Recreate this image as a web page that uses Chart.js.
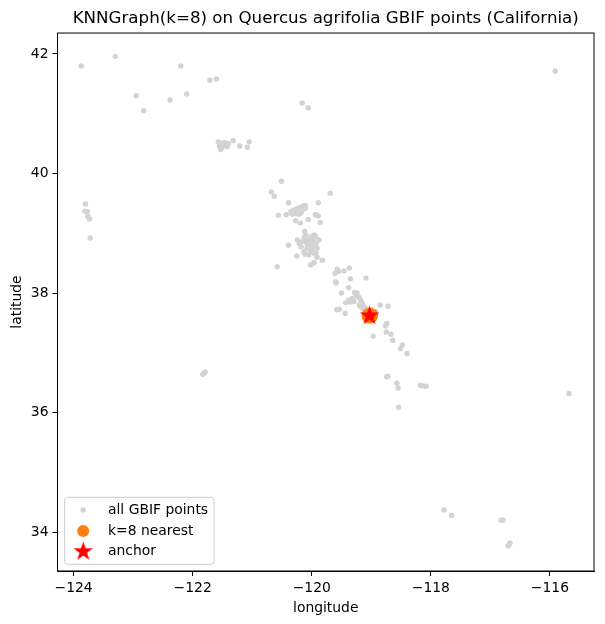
<!DOCTYPE html>
<html>
<head>
<meta charset="utf-8">
<title>KNNGraph on Quercus agrifolia</title>
<script src="https://cdn.jsdelivr.net/npm/chart.js@4.4.1/dist/chart.umd.min.js"></script>
<style>
  body { margin: 0; background: #fff; }
  #chart { display: block; }
</style>
</head>
<body>
<canvas id="chart" width="605" height="624"></canvas>
<script>
// all GBIF occurrence points (longitude / latitude)
const gbifLon = [
  -123.87, -123.30, -122.20, -121.71, -121.60, -122.95, -122.82, -122.38, -122.10, -120.16, -120.06, -115.91,
  -121.57, -121.53, -121.47, -121.53, -121.50, -121.42, -121.32, -121.21, -121.05, -121.08, -121.45, -121.55,
  -121.52, -121.48, -121.40,
  -123.80, -123.81, -123.77, -123.76, -123.73, -123.72,
  -120.51, -120.68, -120.63, -120.39, -119.89, -119.69, -120.11, -120.56, -120.27, -120.19, -120.06, -119.94,
  -119.86, -120.12, -119.94, -120.39, -120.25, -120.11, -119.97, -119.91, -119.82, -119.97, -120.02, -120.58,
  -120.35, -120.30, -120.24, -120.18, -120.13, -120.27, -120.21, -120.16, -120.22, -120.33, -120.11, -120.18,
  -120.43, -119.93, -119.89, -120.25, -120.20, -120.29,
  -120.10, -120.02, -119.96, -120.05, -120.16, -119.93, -120.07, -119.99, -120.21, -120.24, -119.91, -120.02,
  -120.13, -119.93, -120.05, -120.13, -120.01, -120.08, -119.88, -120.18, -119.96, -120.03, -119.98, -120.10,
  -120.00,
  -119.61, -119.55, -119.46, -119.37, -119.35, -119.59, -119.38, -119.09, -119.50, -119.28, -119.57, -119.60,
  -119.43, -119.38, -119.32, -119.26, -119.21, -119.29, -119.15, -119.18, -119.24, -119.18, -119.13, -119.13,
  -118.99, -118.93, -119.08, -119.58, -119.54, -119.44, -118.85, -118.72, -119.35, -119.20, -119.10,
  -118.74, -118.76, -118.75, -118.67, -118.64, -118.48, -118.51, -118.40, -118.97, -118.74, -118.72, -118.57,
  -118.55, -118.18, -118.08, -118.15, -118.54, -115.68,
  -117.78, -117.65, -116.82, -116.79, -116.67, -116.70, -116.68,
  -121.81, -121.79, -121.83
];
const gbifLat = [
  41.80, 41.96, 41.80, 41.56, 41.58, 41.30, 41.05, 41.23, 41.33, 41.18, 41.10, 41.71,
  40.53, 40.50, 40.48, 40.40, 40.45, 40.45, 40.55, 40.46, 40.53, 40.44, 40.51, 40.46,
  40.43, 40.52, 40.50,
  39.49, 39.37, 39.36, 39.28, 39.24, 38.92,
  39.87, 39.69, 39.62, 39.51, 39.51, 39.67, 39.46, 39.30, 39.21, 39.17, 39.23, 39.31,
  39.18, 39.03, 38.95, 38.80, 38.62, 38.65, 38.67, 38.60, 38.55, 38.50, 38.47, 38.44,
  39.36, 39.39, 39.42, 39.44, 39.46, 39.33, 39.36, 39.39, 39.32, 39.32, 39.42, 39.34,
  39.31, 39.31, 39.29, 39.37, 39.40, 39.35,
  38.97, 38.94, 38.97, 38.89, 38.86, 38.83, 38.80, 38.78, 38.83, 38.89, 38.75, 38.69,
  38.69, 38.67, 38.64, 38.92, 38.86, 38.75, 38.89, 38.77, 38.51, 38.82, 38.88, 38.85,
  38.72,
  38.33, 38.36, 38.37, 38.42, 38.24, 38.17, 38.09, 38.25, 38.00, 38.01, 38.40, 38.19,
  37.84, 37.88, 37.91, 37.95, 37.93, 37.86, 37.83, 37.88, 38.00, 37.77, 37.73, 37.78,
  37.72, 37.69, 37.68, 37.72, 37.73, 37.66, 37.80, 37.78, 37.85, 37.80, 37.75,
  37.49, 37.45, 37.35, 37.31, 37.21, 37.13, 37.07, 36.99, 37.28, 36.60, 36.61, 36.49,
  36.41, 36.46, 36.44, 36.45, 36.09, 36.32,
  34.37, 34.28, 34.20, 34.20, 33.82, 33.77, 33.80,
  36.66, 36.68, 36.64
];

// the k=8 nearest neighbours of the anchor
const nearLon = [-119.06, -119.05, -119.02, -118.99, -118.99, -119.01, -119.04, -119.06];
const nearLat = [37.63, 37.65, 37.65, 37.64, 37.61, 37.59, 37.59, 37.60];

const anchorLon = [-119.03];
const anchorLat = [37.62];

const xTicks = [-124, -122, -120, -118, -116];
const yTicks = [34, 36, 38, 40, 42];
const xRange = [-124.27, -115.26];
const yRange = [33.35, 42.35];

const toPoints = (xs, ys) => xs.map((x, i) => ({x: x, y: ys[i]}));
const minus = v => (v < 0 ? '\u2212' : '') + Math.abs(v);

// matplotlib-like filled five-pointed star
function starCanvas(r, color) {
  const c = document.createElement('canvas');
  const size = Math.ceil(r * 2 + 2);
  c.width = c.height = size;
  const g = c.getContext('2d');
  g.beginPath();
  for (let i = 0; i < 10; i++) {
    const rad = i % 2 ? r * 0.381966 : r;
    const a = -Math.PI / 2 + i * Math.PI / 5;
    g.lineTo(size / 2 + rad * Math.cos(a), size / 2 + rad * Math.sin(a));
  }
  g.closePath();
  g.fillStyle = color;
  g.fill();
  return c;
}
const star = starCanvas(10.3, '#ff0000');

const font = {family: 'DejaVu Sans', size: 13.9, weight: 'normal'};

// title centred over the plot area, like the axes title
const centerTitle = {
  id: 'centerTitle',
  afterLayout(chart) {
    if (chart.titleBlock) {
      chart.titleBlock.left = chart.chartArea.left;
      chart.titleBlock.right = chart.chartArea.right;
    }
  }
};

// box around the whole axes
const frame = {
  id: 'frame',
  afterDatasetsDraw(chart) {
    const {ctx, chartArea: a} = chart;
    ctx.save();
    ctx.strokeStyle = '#000';
    ctx.lineWidth = 1;
    ctx.strokeRect(a.left, a.top, a.right - a.left, a.bottom - a.top);
    ctx.restore();
  }
};

// legend in the lower left corner inside the axes
const cornerLegend = {
  id: 'cornerLegend',
  afterDraw(chart) {
    const {ctx, chartArea: a} = chart;
    const x0 = a.left + 7.2, y0 = a.bottom - 73.7, w = 149.3, h = 67;
    ctx.save();
    ctx.beginPath();
    ctx.roundRect(x0, y0, w, h, 3);
    ctx.fillStyle = 'rgba(255,255,255,0.8)';
    ctx.fill();
    ctx.strokeStyle = '#cccccc';
    ctx.lineWidth = 1;
    ctx.stroke();

    const rows = [12.7, 33.7, 54.3];
    chart.data.datasets.forEach((ds, i) => {
      const y = y0 + rows[i];
      ctx.fillStyle = ds.backgroundColor;
      Chart.helpers.drawPoint(ctx, {
        pointStyle: ds.pointStyle || 'circle',
        radius: ds.pointRadius,
        rotation: 0,
        borderWidth: 0
      }, x0 + 18.5, y);
      ctx.fillStyle = '#000';
      ctx.font = '13.9px "DejaVu Sans"';
      ctx.textBaseline = 'middle';
      ctx.textAlign = 'left';
      ctx.fillText(ds.label, x0 + 43.3, y);
    });
    ctx.restore();
  }
};

new Chart(document.getElementById('chart'), {
  type: 'scatter',
  data: {
    datasets: [
      {
        label: 'all GBIF points',
        data: toPoints(gbifLon, gbifLat),
        backgroundColor: '#d3d3d3',
        borderWidth: 0,
        pointRadius: 2.7,
        order: 3
      },
      {
        label: 'k=8 nearest',
        data: toPoints(nearLon, nearLat),
        backgroundColor: '#ff7f0e',
        borderWidth: 0,
        pointRadius: 6,
        order: 2
      },
      {
        label: 'anchor',
        data: toPoints(anchorLon, anchorLat),
        backgroundColor: '#ff0000',
        pointStyle: star,
        pointRadius: 10,
        order: 1
      }
    ]
  },
  options: {
    responsive: false,
    animation: false,
    devicePixelRatio: 1,
    layout: {padding: {top: 0, right: 9.3, bottom: 0, left: 0}},
    plugins: {
      legend: {display: false},
      tooltip: {enabled: false},
      title: {
        display: true,
        text: 'KNNGraph(k=8) on Quercus agrifolia GBIF points (California)',
        color: '#000',
        font: {family: 'DejaVu Sans', size: 16.7, weight: 'normal'},
        padding: {top: 9, bottom: 4}
      }
    },
    scales: {
      x: {
        type: 'linear',
        min: xRange[0],
        max: xRange[1],
        afterBuildTicks: s => { s.ticks = xTicks.map(v => ({value: v})); },
        afterFit: s => { s.height = 53; },
        ticks: {color: '#000', font: font, padding: 4, maxRotation: 0, autoSkip: false, callback: v => minus(v)},
        grid: {drawOnChartArea: false, drawTicks: true, tickLength: 5, tickColor: '#000', tickWidth: 1},
        border: {display: true, color: '#000', width: 1},
        title: {display: true, text: 'longitude', color: '#000', font: font, padding: {top: 0, bottom: 7}}
      },
      y: {
        type: 'linear',
        min: yRange[0],
        max: yRange[1],
        afterBuildTicks: s => { s.ticks = yTicks.map(v => ({value: v})); },
        afterFit: s => { s.width = 57.5; },
        ticks: {color: '#000', font: font, padding: 4, autoSkip: false, callback: v => minus(v)},
        grid: {drawOnChartArea: false, drawTicks: true, tickLength: 5, tickColor: '#000', tickWidth: 1},
        border: {display: true, color: '#000', width: 1},
        title: {display: true, text: 'latitude', color: '#000', font: font, padding: {top: 9, bottom: 0}}
      }
    }
  },
  plugins: [centerTitle, frame, cornerLegend]
});
</script>
</body>
</html>
